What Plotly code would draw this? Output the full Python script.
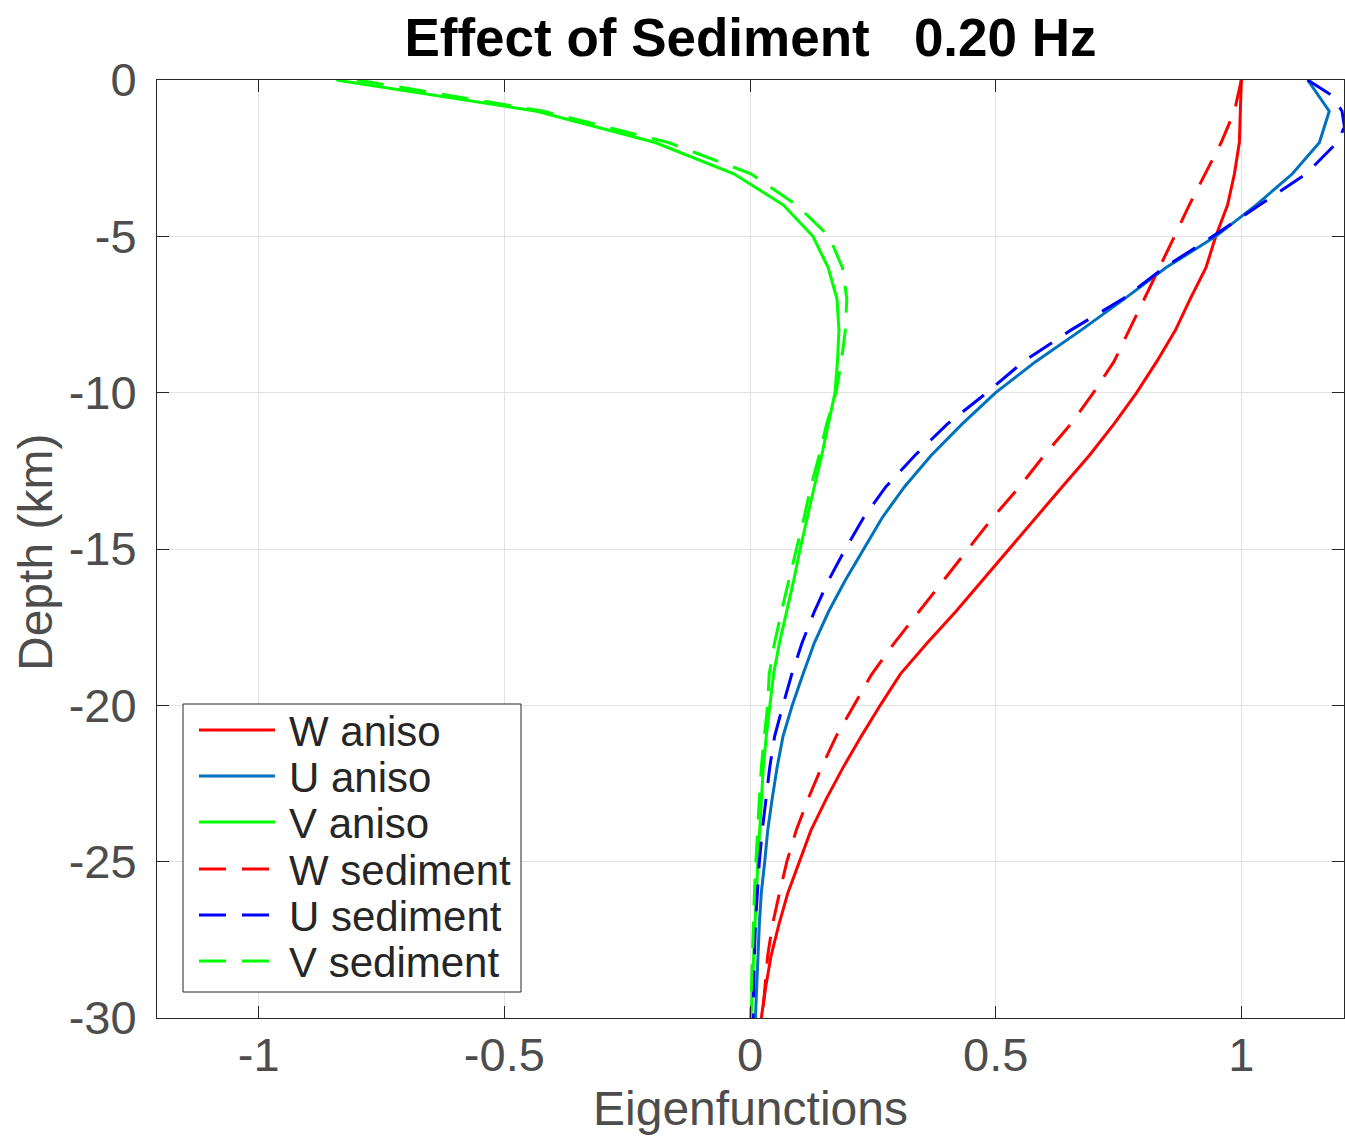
import plotly.graph_objects as go

# Depth samples (km)
depth_top = [0, -1, -2, -3, -4, -5, -6, -7, -8, -9, -10, -11, -12, -13, -14, -15,
             -16, -17, -18, -19, -20, -21, -22, -23, -24, -25, -26, -27, -28, -29, -30]

w_aniso = [1.0, 0.998, 0.996, 0.986, 0.972, 0.948, 0.928, 0.896, 0.866, 0.828, 0.787, 0.741,
           0.691, 0.636, 0.582, 0.528, 0.473, 0.419, 0.361, 0.306, 0.265, 0.226, 0.189, 0.155,
           0.124, 0.101, 0.077, 0.059, 0.043, 0.032, 0.023]
u_aniso = [1.135, 1.179, 1.159, 1.104, 1.030, 0.948, 0.847, 0.762, 0.674, 0.582, 0.500, 0.432,
           0.369, 0.315, 0.269, 0.231, 0.194, 0.160, 0.131, 0.108, 0.086, 0.067, 0.055, 0.045,
           0.036, 0.030, 0.023, 0.019, 0.016, 0.013, 0.011]
v_aniso = [-0.842, -0.434, -0.193, -0.033, 0.068, 0.128, 0.159, 0.177, 0.181, 0.178, 0.173, 0.160,
           0.146, 0.131, 0.116, 0.102, 0.089, 0.074, 0.060, 0.048, 0.040, 0.033, 0.027, 0.023,
           0.019, 0.016, 0.013, 0.010, 0.007, 0.004, 0.002]

w_sed = [1.0, 0.986, 0.959, 0.927, 0.894, 0.864, 0.833, 0.803, 0.772, 0.741, 0.699, 0.653,
         0.599, 0.549, 0.494, 0.444, 0.394, 0.344, 0.294, 0.248, 0.212, 0.175, 0.145, 0.118,
         0.094, 0.075, 0.060, 0.046, 0.036, 0.030, 0.025]
v_sed = [-0.80, -0.42, -0.166, 0.002, 0.095, 0.161, 0.188, 0.197, 0.194, 0.186, 0.175, 0.156,
         0.141, 0.124, 0.110, 0.094, 0.079, 0.064, 0.050, 0.039, 0.036, 0.029, 0.023, 0.019,
         0.015, 0.012, 0.009, 0.007, 0.005, 0.003, 0.001]

# U sediment is sampled more finely near the surface
depth_u_sed = [0, -0.5, -1, -1.5, -2, -3, -4, -5, -6, -7, -8, -9, -10, -11, -12, -13, -14, -15,
               -16, -17, -18, -19, -20, -21, -22, -23, -24, -25, -26, -27, -28, -29, -30]
u_sed = [1.135, 1.185, 1.205, 1.21, 1.195, 1.132, 1.037, 0.942, 0.843, 0.759, 0.653, 0.557,
         0.482, 0.402, 0.336, 0.277, 0.231, 0.194, 0.160, 0.131, 0.106, 0.085, 0.067, 0.050,
         0.040, 0.032, 0.025, 0.019, 0.015, 0.011, 0.009, 0.007, 0.006]

x_ticks = [-1, -0.5, 0, 0.5, 1]
x_tick_text = ["-1", "-0.5", "0", "0.5", "1"]
y_ticks = [0, -5, -10, -15, -20, -25, -30]
y_tick_text = ["0", "-5", "-10", "-15", "-20", "-25", "-30"]

DASH = "27px,16px"
series = [
    ("W aniso", w_aniso, depth_top, "#ff0000", "solid"),
    ("U aniso", u_aniso, depth_top, "#0072BD", "solid"),
    ("V aniso", v_aniso, depth_top, "#00ff00", "solid"),
    ("W sediment", w_sed, depth_top, "#ff0000", DASH),
    ("U sediment", u_sed, depth_u_sed, "#0000ff", DASH),
    ("V sediment", v_sed, depth_top, "#00ff00", DASH),
]

# Page body margin is removed (post_script), so the figure fills the window exactly.
W, H = 1345, 1139
ML, MR, MT, MB = 157, 1, 80, 121
PW, PH = W - ML - MR, H - MT - MB


def px_x(px):
    return (px - ML) / PW


def px_y(py):
    return (H - MB - py) / PH


fig = go.Figure()
for name, xs, ys, color, dash in series:
    fig.add_trace(go.Scatter(x=xs, y=ys, mode="lines", name=name, showlegend=False,
                             line=dict(color=color, width=3, dash=dash)))

font_family = "Liberation Sans, Arial, Helvetica, sans-serif"
axis_common = dict(
    showgrid=True, gridcolor="#e3e3e3", gridwidth=1,
    showline=True, linecolor="#262626", linewidth=1, mirror="ticks",
    ticks="inside", ticklen=12, tickcolor="#262626", tickwidth=1,
    zeroline=False, automargin=False,
    tickfont=dict(family=font_family, size=47, color="#4d4d4d"),
)

# Manual MATLAB-style legend box
shapes = [dict(type="rect", xref="paper", yref="paper",
               x0=px_x(183), x1=px_x(521), y0=px_y(992), y1=px_y(704),
               line=dict(color="#262626", width=1), fillcolor="white", layer="above")]
annotations = []
row_y = [730, 776, 822, 869, 915, 961]
for (name, _, _, color, dash), ry in zip(series, row_y):
    shapes.append(dict(type="line", xref="paper", yref="paper",
                       x0=px_x(199), x1=px_x(275), y0=px_y(ry), y1=px_y(ry),
                       line=dict(color=color, width=3, dash=dash), layer="above"))
    annotations.append(dict(text=name, xref="paper", yref="paper",
                            x=px_x(287), y=px_y(ry + 1), xanchor="left", yanchor="middle",
                            showarrow=False,
                            font=dict(family=font_family, size=42, color="#262626")))

# y-axis title
annotations.append(dict(text="Depth (km)", xref="paper", yref="paper",
                        x=px_x(35), y=px_y(552), xanchor="center", yanchor="middle",
                        textangle=-90, showarrow=False,
                        font=dict(family=font_family, size=48, color="#4d4d4d")))

fig.update_layout(
    width=W, height=H,
    margin=dict(l=ML, r=MR, t=MT, b=MB),
    paper_bgcolor="white", plot_bgcolor="white",
    title=dict(text="<b>Effect of Sediment\u00a0\u00a0\u00a00.20 Hz</b>",
               x=0.5, xref="paper", xanchor="center",
               y=1 - 37 / H, yref="container", yanchor="middle",
               font=dict(family=font_family, size=53, color="#000000"),
               automargin=False),
    xaxis=dict(range=[-1.207, 1.209], tickvals=x_ticks, ticktext=x_tick_text,
               ticklabelstandoff=-4,
               title=dict(text="Eigenfunctions", standoff=10,
                          font=dict(family=font_family, size=48, color="#4d4d4d")),
               **axis_common),
    yaxis=dict(range=[-30, 0], tickvals=y_ticks, ticktext=y_tick_text,
               ticklabelstandoff=10,
               **axis_common),
    shapes=shapes,
    annotations=annotations,
    showlegend=False,
)

fig.write_html("out.html",
               config={"displayModeBar": False},
               post_script="document.body.style.margin='0';"
                           "document.documentElement.style.overflow='hidden';")
